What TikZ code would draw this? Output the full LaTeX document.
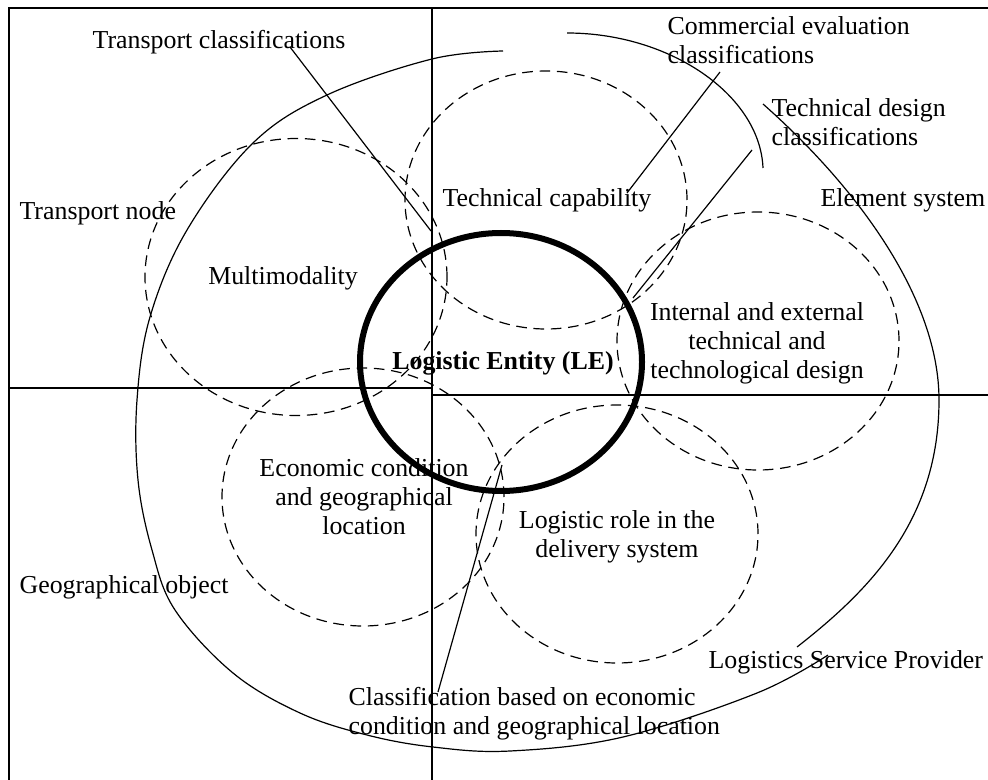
\documentclass[tikz,border=0pt]{standalone}
\usepackage{fontspec}
\setmainfont{Liberation Serif}
\usetikzlibrary{shapes.geometric}
\tikzstyle{zone}=[ellipse,draw=black,line width=0.9pt,dash pattern=on 8pt off 5pt,
  minimum width=211.5pt,minimum height=193.5pt,inner sep=0pt]
\tikzstyle{le}=[ellipse,draw=black,line width=4.5pt,
  minimum width=211.5pt,minimum height=193.5pt,inner sep=0pt]
\tikzstyle{txt}=[align=center,inner sep=0pt,font=\fontsize{19.4}{21.75}\selectfont]
\tikzstyle{txtl}=[txt,align=left,anchor=west]
\tikzstyle{none}=[]

\begin{document}
\begin{tikzpicture}[x=0.75pt, y=-0.75pt, line width=0.9pt]
            \useasboundingbox (0,0) rectangle (988,780);
            \draw (9,780) -- (9,8) -- (988,8);
            \draw (432,8) -- (432,780);
            \draw (9,388) -- (432,388);
            \draw (432,395) -- (988,395);
            \draw plot[smooth, tension=0.6] coordinates {(503,51) (432,59) (327,95) (253,143)
              (187,230) (150,317) (137,400) (138,480) (152,550) (175,610) (233,673)
              (300,713) (367,735) (433,747) (510,751) (623,737) (757,693) (828,655)};
            \draw (763,104) .. controls (860,190) and (939,300) .. (939,400)
              .. controls (939,520) and (870,590) .. (797,647);
            \draw (567,33) .. controls (670,33) and (760,95) .. (763,168);
            \node [style=zone, minimum width=226.5pt, minimum height=207.75pt] (0) at (296,277) {};
            \node [style=zone] (1) at (546,200) {};
            \node [style=zone] (2) at (758,341) {};
            \node [style=zone] (3) at (363,497) {};
            \node [style=zone] (4) at (617,534) {};
            \node [style=le] (5) at (501,362) {};
            \node [style=txt] (6) at (283,278) {Multimodality};
            \node [style=txt] (7) at (547,200) {Technical capability};
            \node [style=txt] (8) at (757,343) {Internal and external\\technical and\\technological design};
            \node [style=txt] (9) at (364,497) {Economic condition\\and geographical\\location};
            \node [style=txt] (10) at (617,537) {Logistic role in the\\delivery system};
            \node [style=txt, font=\fontsize{19.4}{21.75}\selectfont\bfseries] (11) at (503,363) {Logistic Entity (LE)};
            \node [style=txt] (12) at (219,42) {Transport classifications};
            \node [style=txtl] (13) at (667,40) {Commercial evaluation\\classifications};
            \node [style=txtl] (14) at (771,122) {Technical design\\classifications};
            \node [style=txtl] (15) at (820,200) {Element system};
            \node [style=txtl] (16) at (19,213) {Transport node};
            \node [style=txtl] (17) at (19,587) {Geographical object};
            \node [style=txtl] (18) at (708,662) {Logistics Service Provider};
            \node [style=txtl] (19) at (348,714) {Classification based on economic\\condition and geographical location};
            \node [style=none] (20) at (290,47) {};
            \node [style=none] (21) at (431,231) {};
            \node [style=none] (22) at (720,72) {};
            \node [style=none] (23) at (627,193) {};
            \node [style=none] (24) at (752,150) {};
            \node [style=none] (25) at (633,298) {};
            \node [style=none] (26) at (438,692) {};
            \node [style=none] (27) at (502,465) {};
            \draw (20.center) to (21.center);
            \draw (22.center) to (23.center);
            \draw (24.center) to (25.center);
            \draw (26.center) to (27.center);
    \end{tikzpicture}
\end{document}
